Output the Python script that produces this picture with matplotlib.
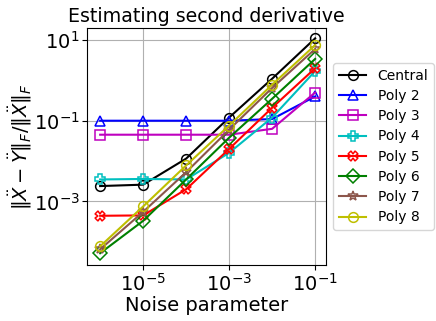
import numpy as np
import matplotlib
matplotlib.use('Agg')
import matplotlib.pyplot as plt

# ================= DATA =================
noise = [1e-6, 1e-5, 1e-4, 1e-3, 1e-2, 1e-1]

central = [2.4e-3, 2.6e-3, 1.15e-2, 0.12, 1.1, 11.0]
poly2 = [0.1, 0.1, 0.1, 0.1, 0.11, 0.4]
poly3 = [0.045, 0.045, 0.045, 0.045, 0.063, 0.5]
poly4 = [3.5e-3, 3.6e-3, 3.5e-3, 0.016, 0.12, 1.7]
poly5 = [4.4e-4, 4.5e-4, 2.0e-3, 0.02, 0.21, 2.0]
poly6 = [5.2e-5, 3.3e-4, 3.5e-3, 0.038, 0.35, 3.4]
poly7 = [6.5e-5, 5.5e-4, 5.3e-3, 0.06, 0.65, 6.0]
poly8 = [7.7e-5, 7.5e-4, 7.8e-3, 0.076, 0.78, 7.5]

labels = ['Central', 'Poly 2', 'Poly 3', 'Poly 4', 'Poly 5', 'Poly 6', 'Poly 7', 'Poly 8']
series = [central, poly2, poly3, poly4, poly5, poly6, poly7, poly8]
styles = ['k-o', 'b-^', 'm-s', 'c-P', 'r-X', 'g-D', '-*', 'y-o']
colors = ['k', 'b', 'm', 'c', 'r', 'g', 'tab:brown', 'y']

fig = plt.figure(figsize=(4.36, 3.21), dpi=100)
ax = fig.add_axes([0.2, 0.174, 0.548, 0.739])

for vals, lab, st, col in zip(series, labels, styles, colors):
    ax.loglog(noise, vals, st, color=col, label=lab, linewidth=1.5,
              markersize=7, fillstyle='none', markeredgewidth=1.1)

ax.set_xlim(5e-7, 1.8e-1)
ax.set_ylim(10**-4.58, 10**1.3)
ax.set_xticks([1e-5, 1e-3, 1e-1])
ax.set_yticks([1e-3, 1e-1, 1e1])
ax.minorticks_off()
ax.tick_params(labelsize=14, pad=2)
ax.grid(True, color='#b0b0b0', linewidth=0.8)

ax.set_title('Estimating second derivative', fontsize=13.7, pad=4)
ax.set_xlabel('Noise parameter', fontsize=14, labelpad=1)
ax.set_ylabel(r'$\|\ddot{X}-\ddot{Y}\|_F/\|\ddot{X}\|_F$', fontsize=14, labelpad=0)

ax.legend(loc='center left', bbox_to_anchor=(1.0, 0.5), fontsize=10,
          handlelength=2.0, borderpad=0.4, labelspacing=0.45, borderaxespad=0.5)

fig.savefig('out.png', dpi=100)
